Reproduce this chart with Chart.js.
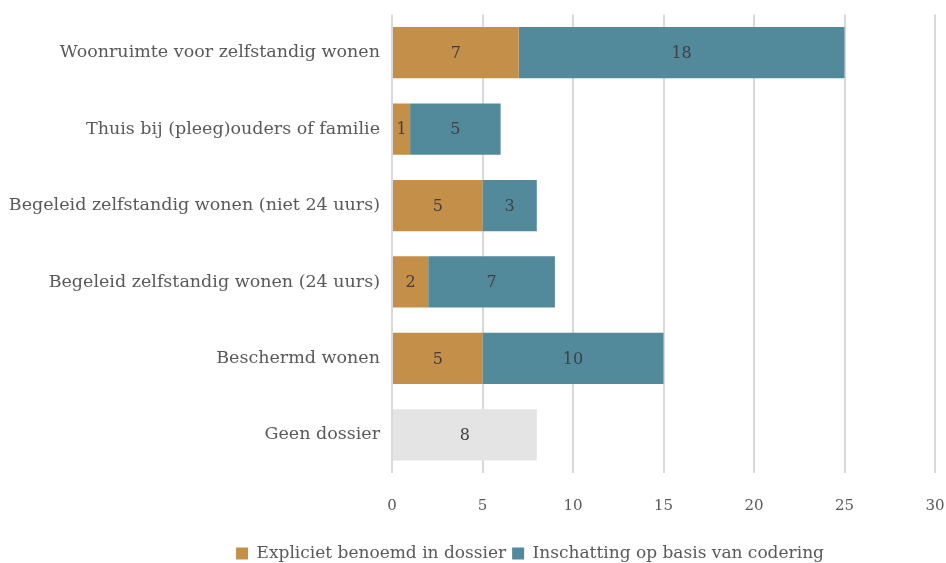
<!DOCTYPE html>
<html>
<head>
<meta charset="utf-8">
<script src="https://cdn.jsdelivr.net/npm/chart.js@4.4.1/dist/chart.umd.min.js"></script>
<style>
  html, body { margin: 0; padding: 0; background: #fff; }
  #wrap { width: 946px; height: 563px; }
</style>
</head>
<body>
<div id="wrap"><canvas id="woonChart"></canvas></div>
<script>
// Categories (top to bottom)
const categories = [
  'Woonruimte voor zelfstandig wonen',
  'Thuis bij (pleeg)ouders of familie',
  'Begeleid zelfstandig wonen (niet 24 uurs)',
  'Begeleid zelfstandig wonen (24 uurs)',
  'Beschermd wonen',
  'Geen dossier'
];
const expliciet   = [7, 1, 5, 2, 5, null];
const inschatting = [18, 5, 3, 7, 10, null];
const geenDossier = [null, null, null, null, null, 8];
const xTicks = [0, 5, 10, 15, 20, 25, 30];

const fontFamily = '"DejaVu Serif", serif';
const textColor = '#595959';

// --- value labels centred in each segment
const segmentLabels = {
  id: 'segmentLabels',
  afterDatasetsDraw(chart) {
    const ctx = chart.ctx;
    ctx.save();
    ctx.font = '16px ' + fontFamily;
    ctx.fillStyle = '#404040';
    ctx.textAlign = 'center';
    ctx.textBaseline = 'middle';
    chart.data.datasets.forEach((ds, i) => {
      const meta = chart.getDatasetMeta(i);
      meta.data.forEach((bar, j) => {
        const v = ds.data[j];
        if (v == null || v === 0) return;
        const left = Math.min(bar.x, bar.base);
        const right = Math.max(bar.x, bar.base);
        ctx.fillText(String(v), (left + right) / 2, bar.y + 1);
      });
    });
    ctx.restore();
  }
};

// --- nudge the legend a bit to the right of the canvas centre
const legendShift = {
  id: 'legendShift',
  afterLayout(chart) {
    const lg = chart.legend;
    if (!lg) return;
    lg.left += 57;
    lg.right += 57;
  }
};

const ctx = document.getElementById('woonChart').getContext('2d');
const woonChart = new Chart(ctx, {
  type: 'bar',
  data: {
    labels: categories,
    datasets: [
      { label: 'Expliciet benoemd in dossier', data: expliciet, backgroundColor: '#C49049' },
      { label: 'Inschatting op basis van codering', data: inschatting, backgroundColor: '#528A9B' },
      { label: 'Geen dossier', data: geenDossier, backgroundColor: '#E4E4E4' }
    ]
  },
  options: {
    indexAxis: 'y',
    responsive: true,
    maintainAspectRatio: false,
    animation: false,
    datasets: {
      bar: { categoryPercentage: 0.67, barPercentage: 1.0, borderWidth: 0 }
    },
    layout: { padding: { top: 6, right: 0, left: 0, bottom: -9 } },
    scales: {
      x: {
        stacked: true,
        min: 0,
        max: 30,
        afterBuildTicks: axis => { axis.ticks = xTicks.map(v => ({ value: v })); },
        afterFit: scale => { scale.paddingRight = 11; },
        grid: { color: '#D9D9D9', lineWidth: 2, drawTicks: false },
        border: { display: false },
        ticks: { color: textColor, font: { family: fontFamily, size: 15 }, padding: 24 }
      },
      y: {
        stacked: true,
        grid: { display: false },
        border: { display: false },
        ticks: { color: textColor, font: { family: fontFamily, size: 17.5 }, padding: 4 },
        afterFit: scale => { scale.width = 392; }
      }
    },
    plugins: {
      legend: {
        position: 'bottom',
        labels: {
          color: textColor,
          font: { family: fontFamily, size: 17 },
          boxWidth: 12,
          boxHeight: 12,
          padding: 6,
          filter: item => item.datasetIndex < 2
        }
      },
      tooltip: { enabled: true }
    }
  },
  plugins: [segmentLabels, legendShift]
});
</script>
</body>
</html>
